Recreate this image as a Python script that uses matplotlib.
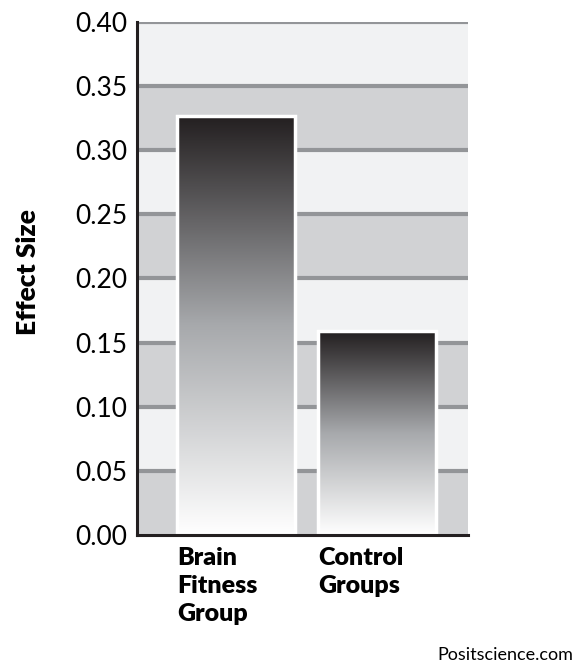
import numpy as np
import matplotlib.pyplot as plt
import matplotlib.transforms as mtransforms
from matplotlib.colors import LinearSegmentedColormap

plt.rcParams['font.family'] = ['Lato', 'DejaVu Sans']

groups = ['Brain\nFitness\nGroup', 'Control\nGroups']
effect = [0.327, 0.159]
yticks = [0.00, 0.05, 0.10, 0.15, 0.20, 0.25, 0.30, 0.35, 0.40]

fig = plt.figure(figsize=(5.76, 6.70), dpi=100)
ax = fig.add_axes([0.2378, 0.2015, 0.5747, 0.7657])

# alternating bands + grid lines
for i in range(len(yticks) - 1):
    col = '#d1d2d4' if i % 2 == 0 else '#f1f2f3'
    ax.axhspan(yticks[i], yticks[i + 1], color=col, zorder=0, lw=0)
for t in yticks[1:]:
    ax.axhline(t, color='#939598', lw=3, zorder=1)

x = np.arange(len(groups))
width = 0.837
bars = ax.bar(x, effect, width=width, color='none', edgecolor='white', linewidth=2.5, zorder=3)

cmap = LinearSegmentedColormap.from_list('g', ['#ffffff', '#a7a9ac', '#231f20'])
grad = np.linspace(0, 1, 256).reshape(-1, 1)
for b in bars:
    x0, w, h = b.get_x(), b.get_width(), b.get_height()
    ax.imshow(grad, cmap=cmap, aspect='auto', origin='lower',
              extent=[x0, x0 + w, 0, h], zorder=2.5)

ax.set_xlim(-0.702, 1.645)
ax.set_ylim(0, 0.40)
ax.set_yticks(yticks)
ax.set_yticklabels(['%.2f' % t for t in yticks], fontsize=19)
ax.tick_params(axis='y', length=0, pad=7)
ax.set_xticks([])

for s in ['top', 'right']:
    ax.spines[s].set_visible(False)
for s in ['left', 'bottom']:
    ax.spines[s].set_linewidth(2.2)
    ax.spines[s].set_color('#231f20')
    ax.spines[s].set_zorder(5)

trans = mtransforms.blended_transform_factory(ax.transData, ax.transAxes)
for xi, g in zip(x, groups):
    ax.text(xi - width / 2 + 0.005, -0.024, g, transform=trans, ha='left', va='top',
            fontsize=18, fontweight='heavy', linespacing=1.33)

fig.text(0.048, 0.594, 'Effect Size', rotation=90, ha='center', va='center',
         fontsize=19, fontweight='heavy')
fig.text(0.995, 0.022, 'Positscience.com', ha='right', va='center', fontsize=13)

fig.savefig('out.png', dpi=100)
